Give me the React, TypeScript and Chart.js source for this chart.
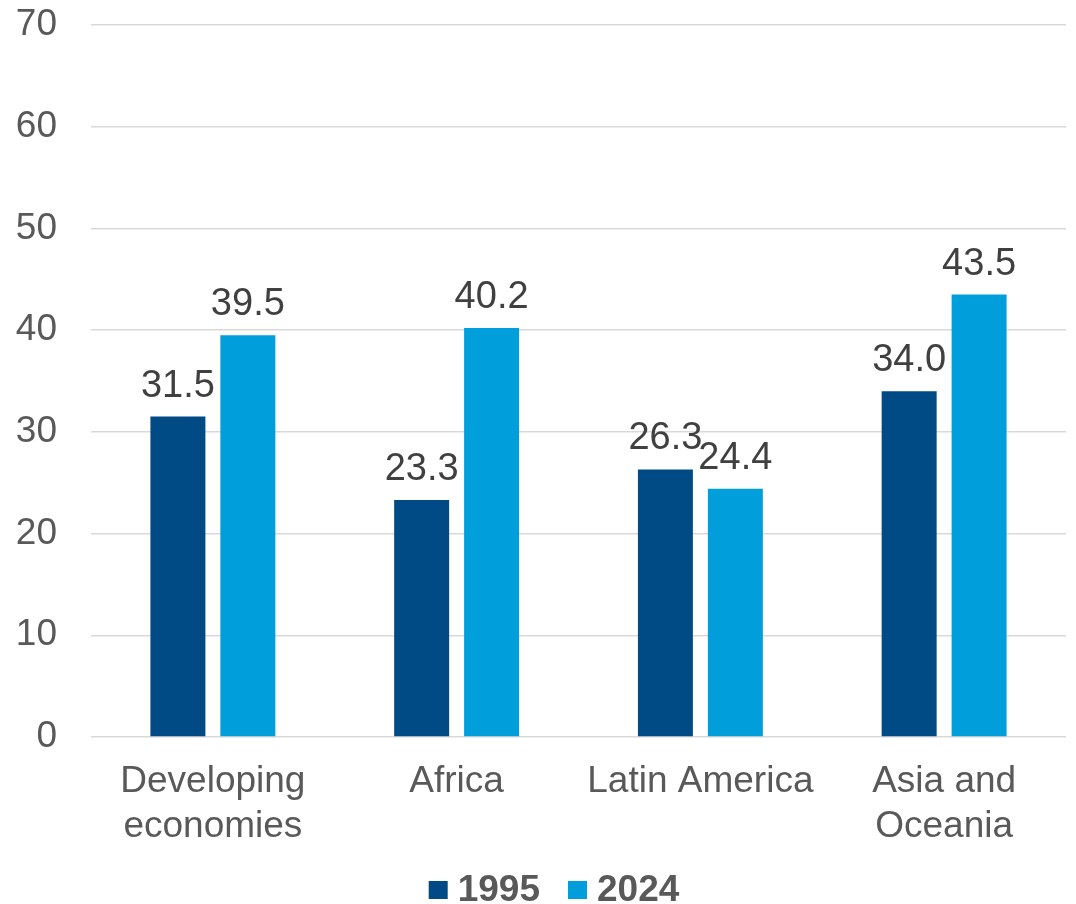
import React, { useEffect, useRef } from "react";
import { Chart, registerables } from "chart.js";

Chart.register(...registerables);

const categories: (string | string[])[] = [
  ["Developing", "economies"],
  "Africa",
  "Latin America",
  ["Asia and", "Oceania"],
];
const seriesLabels = ["1995", "2024"];
const series1995 = [31.5, 23.3, 26.3, 34.0];
const series2024 = [39.5, 40.2, 24.4, 43.5];
const yTicks = [0, 10, 20, 30, 40, 50, 60, 70];
const colors = ["#004a86", "#009fdb"];

const FONT = "'Liberation Sans', Arial, sans-serif";

const dataLabelPlugin = {
  id: "dataLabels",
  afterDatasetsDraw(chart: any) {
    const ctx = chart.ctx;
    ctx.save();
    ctx.font = `38px ${FONT}`;
    ctx.fillStyle = "#404040";
    ctx.textAlign = "center";
    ctx.textBaseline = "alphabetic";
    chart.data.datasets.forEach((ds: any, i: number) => {
      const meta = chart.getDatasetMeta(i);
      meta.data.forEach((bar: any, j: number) => {
        const v = ds.data[j] as number;
        ctx.fillText(v.toFixed(1), bar.x, bar.y - 20);
      });
    });
    ctx.restore();
  },
};

const legendPlugin = {
  id: "customLegend",
  afterDraw(chart: any) {
    const ctx = chart.ctx;
    ctx.save();
    ctx.font = `bold 37px ${FONT}`;
    ctx.textBaseline = "middle";
    ctx.textAlign = "left";
    const boxW = 19;
    const boxH = 18;
    const gapText = 10;
    const gapItem = 28;
    const items = chart.data.datasets.map((ds: any) => ({
      label: ds.label,
      color: ds.backgroundColor,
      w: ctx.measureText(ds.label).width,
    }));
    const total = items.reduce((s: number, it: any) => s + boxW + gapText + it.w, 0) + gapItem * (items.length - 1);
    const cy = 890;
    let x = 554 - total / 2;
    items.forEach((it: any) => {
      ctx.fillStyle = it.color;
      ctx.fillRect(x, cy - boxH / 2, boxW, boxH);
      x += boxW + gapText;
      ctx.fillStyle = "#595959";
      ctx.fillText(it.label, x, cy + 1);
      x += it.w + gapItem;
    });
    ctx.restore();
  },
};

export default function App() {
  const ref = useRef<HTMLCanvasElement>(null);
  useEffect(() => {
    if (!ref.current) return;
    const chart = new Chart(ref.current, {
      type: "bar",
      data: {
        labels: categories,
        datasets: [
          {
            label: seriesLabels[0],
            data: series1995,
            backgroundColor: colors[0],
            categoryPercentage: 0.574,
            barPercentage: 0.786,
          },
          {
            label: seriesLabels[1],
            data: series2024,
            backgroundColor: colors[1],
            categoryPercentage: 0.574,
            barPercentage: 0.786,
          },
        ],
      },
      options: {
        animation: false,
        responsive: true,
        maintainAspectRatio: false,
        layout: { padding: { top: 25, left: 16, right: 10, bottom: 47 } },
        plugins: {
          legend: { display: false },
          tooltip: { enabled: false },
        },
        scales: {
          x: {
            grid: { display: false },
            border: { display: false },
            afterFit: (axis: any) => {
              axis.height = 120;
              axis.paddingLeft = 0;
              axis.paddingRight = 0;
            },
            ticks: {
              font: { family: FONT, size: 37 },
              color: "#595959",
              padding: 15,
              maxRotation: 0,
              autoSkip: false,
            },
          },
          y: {
            min: 0,
            max: 70,
            afterBuildTicks: (axis: any) => {
              axis.ticks = yTicks.map((v) => ({ value: v }));
            },
            afterFit: (axis: any) => {
              axis.width = 75;
              axis.paddingTop = 0;
              axis.paddingBottom = 0;
            },
            grid: { color: "#d9d9d9", lineWidth: 1.5, drawTicks: false },
            border: { display: false },
            ticks: {
              font: { family: FONT, size: 37 },
              color: "#595959",
              padding: 34,
            },
          },
        },
      },
      plugins: [dataLabelPlugin, legendPlugin],
    });
    return () => chart.destroy();
  }, []);
  return (
    <div style={{ position: "absolute", left: 0, top: 0, width: 1076, height: 904 }}>
      <canvas ref={ref} />
    </div>
  );
}
